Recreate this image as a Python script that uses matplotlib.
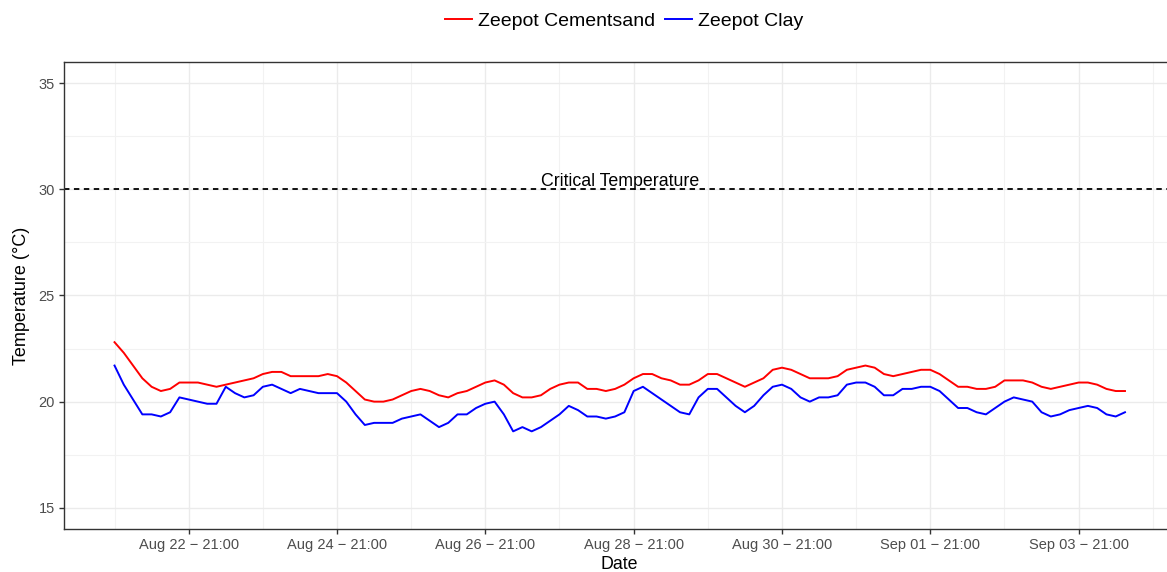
# -------------------------------------------------------------
# Zeepot soil temperature: cementsand vs clay (3-hourly)
# -------------------------------------------------------------
import pandas as pd
import matplotlib.pyplot as plt
import matplotlib.dates as mdates
from matplotlib.ticker import MultipleLocator

plt.rcParams["font.family"] = ["Liberation Sans", "DejaVu Sans"]

# --- Data (3-hour steps)
start = "2023-08-21 21:00"
freq = "3h"

cementsand = [
    22.8, 22.3, 21.7, 21.1, 20.7, 20.5, 20.6, 20.9, 20.9, 20.9, 20.8, 20.7, 20.8, 20.9, 21.0, 21.1, 21.3, 21.4, 21.4,
    21.2, 21.2, 21.2, 21.2, 21.3, 21.2, 20.9, 20.5, 20.1, 20.0, 20.0, 20.1, 20.3, 20.5, 20.6, 20.5, 20.3, 20.2,
    20.4, 20.5, 20.7, 20.9, 21.0, 20.8, 20.4, 20.2, 20.2, 20.3, 20.6, 20.8, 20.9, 20.9, 20.6, 20.6, 20.5, 20.6,
    20.8, 21.1, 21.3, 21.3, 21.1, 21.0, 20.8, 20.8, 21.0, 21.3, 21.3, 21.1, 20.9, 20.7, 20.9, 21.1, 21.5, 21.6, 21.5,
    21.3, 21.1, 21.1, 21.1, 21.2, 21.5, 21.6, 21.7, 21.6, 21.3, 21.2, 21.3, 21.4, 21.5, 21.5, 21.3, 21.0,
    20.7, 20.7, 20.6, 20.6, 20.7, 21.0, 21.0, 21.0, 20.9, 20.7, 20.6, 20.7, 20.8, 20.9, 20.9, 20.8, 20.6, 20.5, 20.5,
]
clay = [
    21.7, 20.8, 20.1, 19.4, 19.4, 19.3, 19.5, 20.2, 20.1, 20.0, 19.9, 19.9, 20.7, 20.4, 20.2, 20.3, 20.7, 20.8, 20.6,
    20.4, 20.6, 20.5, 20.4, 20.4, 20.4, 20.0, 19.4, 18.9, 19.0, 19.0, 19.0, 19.2, 19.3, 19.4, 19.1, 18.8, 19.0,
    19.4, 19.4, 19.7, 19.9, 20.0, 19.4, 18.6, 18.8, 18.6, 18.8, 19.1, 19.4, 19.8, 19.6, 19.3, 19.3, 19.2, 19.3,
    19.5, 20.5, 20.7, 20.4, 20.1, 19.8, 19.5, 19.4, 20.2, 20.6, 20.6, 20.2, 19.8, 19.5, 19.8, 20.3, 20.7, 20.8, 20.6,
    20.2, 20.0, 20.2, 20.2, 20.3, 20.8, 20.9, 20.9, 20.7, 20.3, 20.3, 20.6, 20.6, 20.7, 20.7, 20.5, 20.1,
    19.7, 19.7, 19.5, 19.4, 19.7, 20.0, 20.2, 20.1, 20.0, 19.5, 19.3, 19.4, 19.6, 19.7, 19.8, 19.7, 19.4, 19.3, 19.5,
]
critical_temp = 30
y_limits = (15, 35)

times = pd.date_range(start, periods=len(cementsand), freq=freq)

# --- Figure (ggplot-ish look); panel runs a bit past the right edge
fig = plt.figure(figsize=(11.67, 5.72), dpi=100)
ax = fig.add_axes([64 / 1167, 1 - 529 / 572, (1175.5 - 64) / 1167, (529 - 62) / 572])

ax.plot(times, cementsand, color="#FF0000", lw=1.4, label="Zeepot Cementsand")
ax.plot(times, clay, color="#0000FF", lw=1.4, label="Zeepot Clay")
ax.axhline(critical_temp, color="black", lw=1.3, ls=(0, (3, 2.5)))
mid = times[0] + (times[-1] - times[0]) / 2
ax.text(mid, critical_temp - 0.02, "Critical Temperature", ha="center", va="bottom", fontsize=12.8)

# axis ranges with 5% padding like ggplot
span = times[-1] - times[0]
ax.set_xlim(times[0] - span * 0.05, times[-1] + span * 0.05)
yr = y_limits[1] - y_limits[0]
ax.set_ylim(y_limits[0] - 0.05 * yr, y_limits[1] + 0.05 * yr)

ticks = pd.date_range("2023-08-22 21:00", "2023-09-03 21:00", freq="2D")
minor = pd.date_range("2023-08-21 21:00", "2023-09-04 21:00", freq="2D")
ax.set_xticks(ticks)
ax.set_xticks(minor, minor=True)
ax.xaxis.set_major_formatter(mdates.DateFormatter("%b %d \u2212 %H:%M"))
ax.yaxis.set_major_locator(MultipleLocator(5))
ax.yaxis.set_minor_locator(MultipleLocator(2.5))

ax.grid(which="major", color="#EBEBEB", lw=1.0)
ax.grid(which="minor", color="#F2F2F2", lw=0.8)
ax.set_axisbelow(True)
for s in ax.spines.values():
    s.set_color("#333333")
    s.set_linewidth(1.0)
ax.tick_params(which="major", length=3.5, width=1.0, color="#333333",
               labelcolor="#4D4D4D", labelsize=10.5, pad=3)
ax.tick_params(which="minor", length=0)

ax.set_xlabel("Date", fontsize=12.8, labelpad=3)
ax.set_ylabel("Temperature (\u00b0C)", fontsize=13, labelpad=6)

# legend is centred on the (wider) panel, not the cropped image
fig.legend(loc="center", bbox_to_anchor=(624 / 1167, 1 - 21 / 572), ncol=2, frameon=False,
           fontsize=14, handlelength=1.4, handletextpad=0.3, columnspacing=0.5)

fig.savefig("out.png", dpi=100)
